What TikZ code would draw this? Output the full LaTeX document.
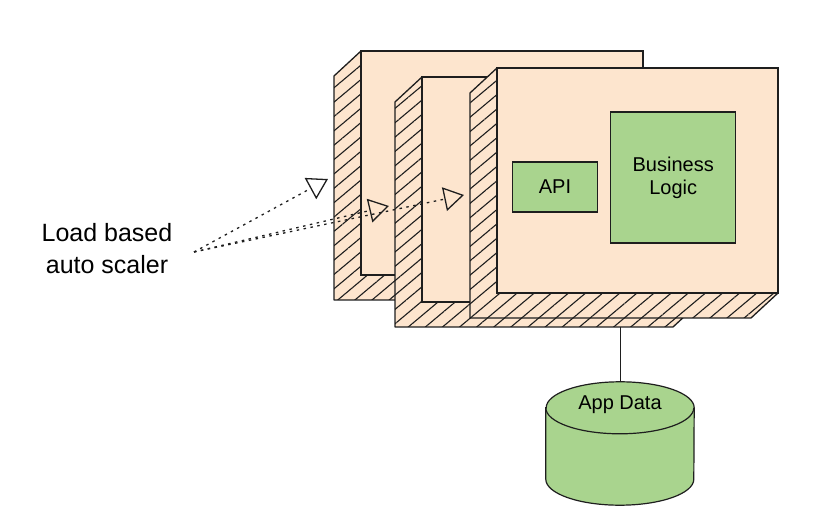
\documentclass[tikz,border=0pt]{standalone}
\usepackage{fontspec}
\setmainfont{Liberation Sans}
\usepackage{tikz}
\usetikzlibrary{
  arrows.meta, positioning, shapes.geometric, calc, patterns.meta
}
\definecolor{scPeach}{HTML}{FDE5CE}
\definecolor{scGreen}{HTML}{A9D48E}
\definecolor{scInk}{HTML}{1E1E1E}
% one service copy: hatched side + bottom, then the front face
% #1 name, #2 x, #3 y (top left of face), #4 width, #5 height
\newcommand{\tier}[5]{%
  \path[sc-wall] (#2,#3) -- ++(-27,25) -- ++(0,#5) -- ++(#4,0)
    -- ++(27,-25) -- ++(-#4,0) -- cycle;
  \node[sc-face, minimum width=#4pt, minimum height=#5pt] (#1) at (#2,#3) {};
}
\tikzset{
  sc-face/.style={
    rectangle, draw=scInk, fill=scPeach, line width=1.3pt,
    inner sep=0pt, outer sep=0pt, anchor=north west
  },
  sc-wall/.style={
    draw=scInk, line width=1.3pt, line join=round,
    preaction={fill=scPeach},
    pattern={Lines[angle=40, distance=11pt, line width=1.1pt]},
    pattern color=scInk
  },
  sc-part/.style={
    rectangle, draw=scInk, fill=scGreen, line width=1.2pt,
    inner sep=0pt, align=center
  },
  sc-drum/.style={draw=scInk, fill=scGreen, line width=1.2pt},
  sc-flow/.style={-{Triangle[open, length=20pt, width=24pt]},
    line width=1.3pt, dash pattern=on 2.5pt off 4.5pt, draw=scInk},
  sc-link/.style={draw=scInk, line width=1pt},
}

\begin{document}
\begin{tikzpicture}[x=1pt, y=-1pt, font=\fontsize{20}{23}\selectfont]
  \useasboundingbox (0,0) rectangle (822,526);

  % three copies, back to front
  \tier{s1}{361}{51}{282}{224}
  \tier{s2}{422}{77}{278}{225}
  \tier{s3}{497}{68}{281}{225}

  \node[sc-part, minimum width=85pt, minimum height=50pt] (api) at (555,187) {API};
  \node[sc-part, minimum width=125pt, minimum height=131pt,
        right=12pt of api, yshift=9.5pt]                  (logic) {Business\\Logic};

  % data store
  \node[minimum width=148pt, minimum height=123pt, inner sep=0pt] (db) at (620,443.5) {};
  \filldraw[sc-drum] ($(db.north west)+(0,26)$) -- ($(db.south west)+(0,-26)$)
    arc[start angle=180, end angle=360, x radius=74pt, y radius=26pt]
    -- ($(db.north east)+(0,26)$)
    arc[start angle=0, end angle=180, x radius=74pt, y radius=26pt] -- cycle;
  \draw[sc-drum, fill=none] ($(db.north west)+(0,26)$)
    arc[start angle=180, end angle=360, x radius=74pt, y radius=26pt];
  \node (dbtext) at ($(db.north)+(0,23)$) {App Data};
  \coordinate (s2base) at ($(s2.south west)+(-27,25)$);
  \draw[sc-link] (db.north) -- (db.north |- s2base);

  \node[align=center, font=\fontsize{25}{32}\selectfont] (scaler) at (107,249)
    {Load based\\auto scaler};
  \coordinate (fan)  at (194,252);
  \coordinate (tipA) at (328,179);
  \coordinate (tipB) at (389,206);
  \coordinate (tipC) at (464,195);

  \draw[sc-flow] (fan) -- (tipA);
  \draw[sc-flow] (fan) -- (tipB);
  \draw[sc-flow] (fan) -- (tipC);
\end{tikzpicture}
\end{document}
